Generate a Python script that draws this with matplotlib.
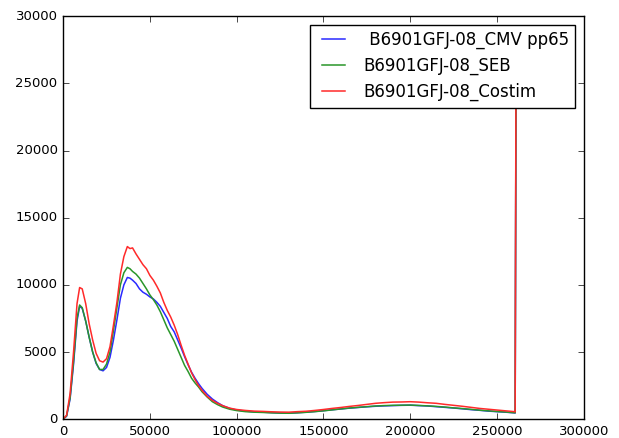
import numpy as np
import matplotlib
matplotlib.use('Agg')
import matplotlib.pyplot as plt

# histogram bins (channel value) shared by all three samples
x = [0, 2000, 4000, 6000, 8000, 9500, 11000, 13000, 15000, 17000, 19000, 21000,
     23000, 25000, 27000, 29000, 31000, 33000, 35000, 37000, 38500, 40000, 42000,
     44000, 46000, 48000, 50000, 52000, 54000, 56000, 58000, 60000, 62000, 64000,
     66000, 68000, 70000, 72000, 74000, 76000, 78000, 80000, 83000, 86000, 89000,
     92000, 96000, 100000, 105000, 110000, 115000, 120000, 125000, 130000, 135000,
     140000, 145000, 150000, 155000, 160000, 165000, 170000, 175000, 180000, 185000,
     190000, 195000, 200000, 205000, 210000, 215000, 220000, 225000, 230000, 235000,
     240000, 245000, 250000, 255000, 260000, 260500, 261000]

cmv = [0, 220, 1500, 4100, 7300, 8400, 8250, 7300, 6100, 5000, 4150, 3700,
       3600, 3850, 4600, 5900, 7400, 9000, 10000, 10550, 10500, 10350, 10100,
       9700, 9450, 9300, 9100, 8950, 8700, 8400, 7950, 7500, 6900, 6500,
       5900, 5300, 4650, 4050, 3500, 3050, 2650, 2300, 1850, 1500, 1230,
       1000, 800, 680, 600, 550, 520, 490, 460, 450, 480,
       520, 570, 630, 700, 760, 820, 870, 920, 960, 990,
       1010, 1030, 1040, 1010, 980, 930, 880, 830, 770, 710,
       660, 600, 560, 520, 470, 460, 26000]

seb = [0, 250, 1600, 4300, 7500, 8500, 8300, 7300, 6100, 5000, 4200, 3700,
       3700, 4100, 5000, 6600, 8300, 10000, 10900, 11300, 11200, 11000, 10800,
       10500, 10100, 9700, 9250, 8900, 8500, 8000, 7400, 6800, 6300, 5800,
       5200, 4600, 4000, 3550, 3050, 2700, 2400, 2050, 1650, 1300, 1080,
       900, 740, 640, 560, 520, 500, 470, 450, 440, 470,
       510, 560, 620, 690, 760, 830, 880, 930, 980, 1010,
       1030, 1040, 1050, 1020, 990, 950, 900, 840, 790, 730,
       670, 620, 570, 530, 480, 470, 27000]

costim = [0, 300, 1900, 5000, 8600, 9800, 9700, 8600, 7100, 5900, 4900, 4350,
          4250, 4500, 5400, 7000, 8700, 10800, 12100, 12850, 12700, 12750, 12300,
          11900, 11500, 11200, 10700, 10350, 9900, 9400, 8700, 8100, 7600, 7000,
          6300, 5500, 4750, 4100, 3450, 2950, 2500, 2150, 1700, 1400, 1180,
          1000, 820, 720, 650, 600, 580, 550, 530, 520, 560,
          590, 650, 720, 800, 870, 950, 1020, 1100, 1180, 1230,
          1270, 1280, 1300, 1270, 1220, 1180, 1100, 1030, 960, 880,
          800, 740, 680, 620, 560, 540, 28500]

labels = [' B6901GFJ-08_CMV pp65', 'B6901GFJ-08_SEB', 'B6901GFJ-08_Costim']

plt.style.use('classic')
fig = plt.figure(figsize=(6.19, 4.38), dpi=100, facecolor='white')
ax = fig.add_axes([0.102, 0.043, 0.841, 0.920])

ax.plot(x, cmv, color='#2a2aff', lw=1.1, label=labels[0])
ax.plot(x, seb, color='#2a962a', lw=1.1, label=labels[1])
ax.plot(x, costim, color='#ff2a2a', lw=1.1, label=labels[2])

ax.set_xlim(0, 300000)
ax.set_ylim(0, 30000)
ax.tick_params(labelsize=9.5)

leg = ax.legend(loc='upper right', fontsize=12, fancybox=False,
                labelspacing=0.45)
leg.get_frame().set_edgecolor('black')

fig.savefig('out.png', dpi=100, facecolor='white')
